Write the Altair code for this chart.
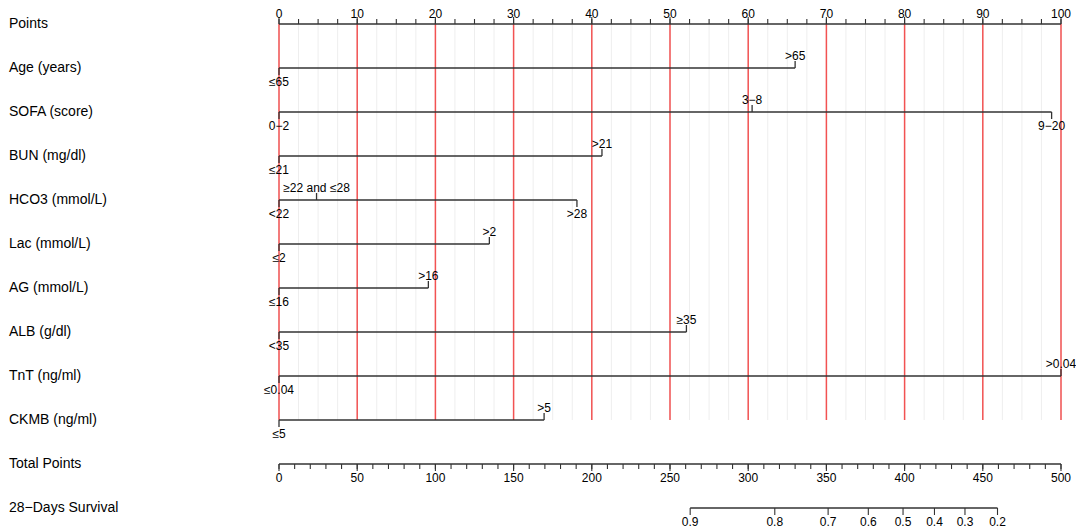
import altair as alt
import pandas as pd

FONT = "Liberation Sans, Arial, Helvetica, sans-serif"

# ---------------- data ----------------
row_names = ["Points", "Age (years)", "SOFA (score)", "BUN (mg/dl)", "HCO3 (mmol/L)",
             "Lac (mmol/L)", "AG (mmol/L)", "ALB (g/dl)", "TnT (ng/ml)", "CKMB (ng/ml)",
             "Total Points", "28\u2212Days Survival"]

points_major = [0, 10, 20, 30, 40, 50, 60, 70, 80, 90, 100]
points_minor = [i * 2.5 for i in range(41)]

age_labels = ["\u226465", ">65"];               age_points = [0, 66.0];          age_side = ["below", "above"]
sofa_labels = ["0\u22122", "3\u22128", "9\u221220"]; sofa_points = [0, 60.5, 98.8]; sofa_side = ["below", "above", "below"]
bun_labels = ["\u226421", ">21"];               bun_points = [0, 41.3];          bun_side = ["below", "above"]
hco3_labels = ["<22", "\u226522 and \u226428", ">28"]; hco3_points = [0, 4.8, 38.1]; hco3_side = ["below", "above", "below"]
lac_labels = ["\u22642", ">2"];                 lac_points = [0, 26.9];          lac_side = ["below", "above"]
ag_labels = ["\u226416", ">16"];                ag_points = [0, 19.1];           ag_side = ["below", "above"]
alb_labels = ["<35", "\u226535"];               alb_points = [0, 52.1];          alb_side = ["below", "above"]
tnt_labels = ["\u22640.04", ">0.04"];           tnt_points = [0, 100.0];         tnt_side = ["below", "above"]
ckmb_labels = ["\u22645", ">5"];                ckmb_points = [0, 33.9];         ckmb_side = ["below", "above"]

total_major = [0, 50, 100, 150, 200, 250, 300, 350, 400, 450, 500]
total_minor = list(range(0, 501, 10))

survival_labels = ["0.9", "0.8", "0.7", "0.6", "0.5", "0.4", "0.3", "0.2"]
survival_total = [262.9, 317.0, 351.1, 376.8, 399.0, 419.1, 438.6, 459.4]

# ---------------- tables ----------------
variables = [
    (1, age_labels, age_points, age_side),
    (2, sofa_labels, sofa_points, sofa_side),
    (3, bun_labels, bun_points, bun_side),
    (4, hco3_labels, hco3_points, hco3_side),
    (5, lac_labels, lac_points, lac_side),
    (6, ag_labels, ag_points, ag_side),
    (7, alb_labels, alb_points, alb_side),
    (8, tnt_labels, tnt_points, tnt_side),
    (9, ckmb_labels, ckmb_points, ckmb_side),
]
lev_rows, line_rows = [], []
for r, labs, pts, sides in variables:
    for l, p, s in zip(labs, pts, sides):
        lev_rows.append({"row": r, "label": l, "x": p, "side": s})
    line_rows.append({"row": r, "x": min(pts), "x2": max(pts)})
levels = pd.DataFrame(lev_rows)
lines = pd.DataFrame(line_rows)

names_df = pd.DataFrame({"row": list(range(len(row_names))), "name": row_names})
minor_df = pd.DataFrame({"x": points_minor, "top": 0, "bottom": 9, "row": 0})
major_df = pd.DataFrame({"x": points_major, "top": 0, "bottom": 9, "row": 0,
                         "label": [str(v) for v in points_major]})
pts_axis = pd.DataFrame({"x": [0], "x2": [100], "row": [0]})

tot_minor_df = pd.DataFrame({"tp": total_minor, "row": 10})
tot_major_df = pd.DataFrame({"tp": total_major, "row": 10, "label": [str(v) for v in total_major]})
tot_axis = pd.DataFrame({"tp": [0], "tp2": [500], "row": [10]})

surv_df = pd.DataFrame({"tp": survival_total, "row": 11, "label": survival_labels})
surv_axis = pd.DataFrame({"tp": [min(survival_total)], "tp2": [max(survival_total)], "row": [11]})

# ---------------- encodings ----------------
xs = alt.Scale(domain=[0, 100], nice=False, zero=False)
ys = alt.Scale(domain=[0, 11], reverse=True, nice=False, zero=False)
X = lambda f="x": alt.X(f"{f}:Q", scale=xs, axis=None)
Y = lambda f="row": alt.Y(f"{f}:Q", scale=ys, axis=None)

LINE = "#333333"
RED = "#f25252"

grid_grey = alt.Chart(minor_df).mark_rule(color="#eeeeee", strokeWidth=1).encode(
    x=X(), y=Y("top"), y2="bottom")
grid_red = alt.Chart(major_df).mark_rule(color=RED, strokeWidth=1.5).encode(
    x=X(), y=Y("top"), y2="bottom")

p_axis = alt.Chart(pts_axis).mark_rule(color=LINE, strokeWidth=1.3).encode(x=X(), x2="x2", y=Y())
p_minor = alt.Chart(minor_df).mark_rule(color=LINE, strokeWidth=1.1, y2Offset=-5).encode(
    x=X(), y=Y(), y2="row")
p_major = alt.Chart(major_df).mark_rule(color=LINE, strokeWidth=1.1, y2Offset=-7).encode(
    x=X(), y=Y(), y2="row")
p_labels = alt.Chart(major_df).mark_text(font=FONT, fontSize=12, dy=-10, baseline="middle",
                                         color="black").encode(x=X(), y=Y(), text="label")

v_lines = alt.Chart(lines).mark_rule(color=LINE, strokeWidth=1.3).encode(x=X(), x2="x2", y=Y())
above = alt.Chart(levels).transform_filter("datum.side == 'above'")
below = alt.Chart(levels).transform_filter("datum.side == 'below'")
t_up = above.mark_rule(color=LINE, strokeWidth=1.3, y2Offset=-7).encode(x=X(), y=Y(), y2="row")
t_down = below.mark_rule(color=LINE, strokeWidth=1.3, y2Offset=7).encode(x=X(), y=Y(), y2="row")
l_up = above.mark_text(font=FONT, fontSize=12, dy=-12.5, baseline="middle", color="black").encode(
    x=X(), y=Y(), text="label")
l_down = below.mark_text(font=FONT, fontSize=12, dy=13.5, baseline="middle", color="black").encode(
    x=X(), y=Y(), text="label")

names = alt.Chart(names_df).mark_text(font=FONT, fontSize=14, align="left", baseline="middle",
                                      color="black").encode(
    x=alt.value(-270), y=Y(), text="name")

to_pts = ["datum.tp / 5", "datum.tp2 / 5"]
t_axis = alt.Chart(tot_axis).transform_calculate(x=to_pts[0], x2=to_pts[1]).mark_rule(
    color=LINE, strokeWidth=1.3).encode(x=X(), x2="x2", y=Y())
t_minor = alt.Chart(tot_minor_df).transform_calculate(x=to_pts[0]).mark_rule(
    color=LINE, strokeWidth=1.1, y2Offset=5).encode(x=X(), y=Y(), y2="row")
t_major = alt.Chart(tot_major_df).transform_calculate(x=to_pts[0]).mark_rule(
    color=LINE, strokeWidth=1.1, y2Offset=7).encode(x=X(), y=Y(), y2="row")
t_labels = alt.Chart(tot_major_df).transform_calculate(x=to_pts[0]).mark_text(
    font=FONT, fontSize=12, dy=14, baseline="middle", color="black").encode(x=X(), y=Y(), text="label")

s_axis = alt.Chart(surv_axis).transform_calculate(x=to_pts[0], x2=to_pts[1]).mark_rule(
    color=LINE, strokeWidth=1.3).encode(x=X(), x2="x2", y=Y())
s_ticks = alt.Chart(surv_df).transform_calculate(x=to_pts[0]).mark_rule(
    color=LINE, strokeWidth=1.1, y2Offset=7).encode(x=X(), y=Y(), y2="row")
s_labels = alt.Chart(surv_df).transform_calculate(x=to_pts[0]).mark_text(
    font=FONT, fontSize=12, dy=14, baseline="middle", color="black").encode(x=X(), y=Y(), text="label")

chart = alt.layer(
    grid_grey, grid_red, p_axis, p_minor, p_major, p_labels,
    v_lines, t_up, t_down, l_up, l_down, names,
    t_axis, t_minor, t_major, t_labels,
    s_axis, s_ticks, s_labels,
).properties(
    width=782, height=484,
    padding={"left": 271, "top": 16, "right": 15, "bottom": 21},
    autosize=alt.AutoSizeParams(type="none"),
    background="white",
).configure_view(stroke=None)

chart.save("out.html", embed_options={"renderer": "svg", "actions": False})
